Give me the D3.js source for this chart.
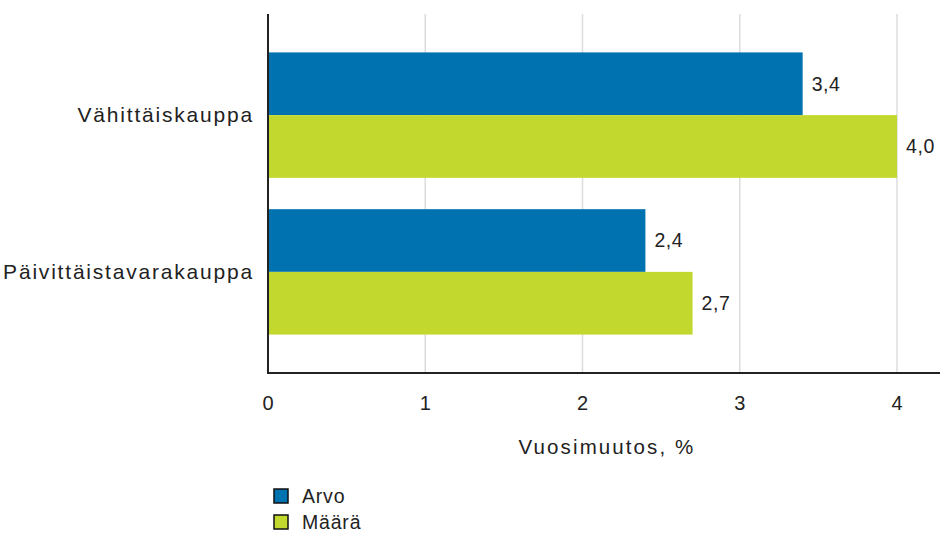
<!DOCTYPE html>
<html>
<head>
<meta charset="utf-8">
<script src="https://cdn.jsdelivr.net/npm/d3@7"></script>
<style>
  body { margin: 0; background: #fff; }
  text { font-family: "Liberation Sans", Arial, sans-serif; fill: #222; }
</style>
</head>
<body>
<div id="chart"></div>
<script>
// data
var categories = ['Vähittäiskauppa', 'Päivittäistavarakauppa'];
var seriesNames = ['Arvo', 'Määrä'];
var arvo = [3.4, 2.4];
var maara = [4.0, 2.7];
var xTicks = [0, 1, 2, 3, 4];

var svgWidth = 940, svgHeight = 533;
var margin = { top: 14, left: 268, right: 20, bottom: 160 };
var colors = ['#0072b0', '#c3d82f'];

var svg = d3.select('#chart').append('svg')
  .attr('width', svgWidth)
  .attr('height', svgHeight);

var plotBottom = 373;

// x scale: 0..4 maps to 268..897
var x = d3.scaleLinear()
  .domain([0, 4])
  .range([margin.left, 897]);

var y = d3.scaleBand()
  .domain(categories)
  .range([margin.top, plotBottom])
  .paddingInner(0.2)
  .paddingOuter(0.245);

var ySub = d3.scaleBand()
  .domain(seriesNames)
  .range([0, y.bandwidth()]);

// gridlines
svg.append('g')
  .selectAll('line')
  .data(xTicks.filter(d => d > 0))
  .enter()
  .append('line')
  .attr('x1', d => x(d))
  .attr('x2', d => x(d))
  .attr('y1', margin.top)
  .attr('y2', plotBottom)
  .attr('stroke', '#dcdcdc')
  .attr('stroke-width', 1.5);

var rows = categories.map((c, i) => ({ cat: c, values: [arvo[i], maara[i]] }));

var groups = svg.selectAll('.grp')
  .data(rows)
  .enter()
  .append('g')
  .attr('transform', d => `translate(0,${y(d.cat)})`);

groups.selectAll('rect')
  .data(d => d.values.map((v, j) => ({ name: seriesNames[j], v: v, j: j })))
  .enter()
  .append('rect')
  .attr('x', x(0))
  .attr('y', d => ySub(d.name))
  .attr('width', d => x(d.v) - x(0))
  .attr('height', ySub.bandwidth())
  .attr('fill', d => colors[d.j]);

groups.selectAll('.val')
  .data(d => d.values.map((v, j) => ({ name: seriesNames[j], v: v })))
  .enter()
  .append('text')
  .attr('x', d => x(d.v) + 9)
  .attr('y', d => ySub(d.name) + ySub.bandwidth() / 2)
  .attr('dy', '0.35em')
  .style('font-size', '19.5px')
  .style('letter-spacing', '0.6px')
  .text(d => d3.format('.1f')(d.v).replace('.', ','));

// category labels
svg.append('g')
  .selectAll('text')
  .data(categories)
  .enter()
  .append('text')
  .attr('x', margin.left - 14)
  .attr('y', d => y(d) + y.bandwidth() / 2)
  .attr('dy', '0.35em')
  .attr('text-anchor', 'end')
  .style('font-size', '21px')
  .style('letter-spacing', '1.8px')
  .text(d => d);

// axes lines
svg.append('line')
  .attr('x1', x(0)).attr('x2', x(0))
  .attr('y1', margin.top).attr('y2', plotBottom)
  .attr('stroke', '#222').attr('stroke-width', 2);

svg.append('line')
  .attr('x1', x(0) - 1).attr('x2', svgWidth)
  .attr('y1', plotBottom).attr('y2', plotBottom)
  .attr('stroke', '#222').attr('stroke-width', 2);

// x tick labels
svg.append('g')
  .selectAll('text')
  .data(xTicks)
  .enter()
  .append('text')
  .attr('x', d => x(d))
  .attr('y', 410)
  .attr('text-anchor', 'middle')
  .style('font-size', '20px')
  .text(d => d);

// axis title
svg.append('text')
  .attr('x', 607)
  .attr('y', 454)
  .attr('text-anchor', 'middle')
  .style('font-size', '20.5px')
  .style('letter-spacing', '2.1px')
  .text('Vuosimuutos, %');

// legend
var legend = svg.append('g')
  .selectAll('g')
  .data(seriesNames)
  .enter()
  .append('g')
  .attr('transform', (d, i) => `translate(274,${489 + i * 26})`);

legend.append('rect')
  .attr('width', 14)
  .attr('height', 14)
  .attr('fill', (d, i) => colors[i])
  .attr('stroke', '#111')
  .attr('stroke-width', 1.5);

legend.append('text')
  .attr('x', 28)
  .attr('y', 7)
  .attr('dy', '0.35em')
  .style('font-size', '19.5px')
  .style('letter-spacing', '0.8px')
  .text(d => d);
</script>
</body>
</html>
